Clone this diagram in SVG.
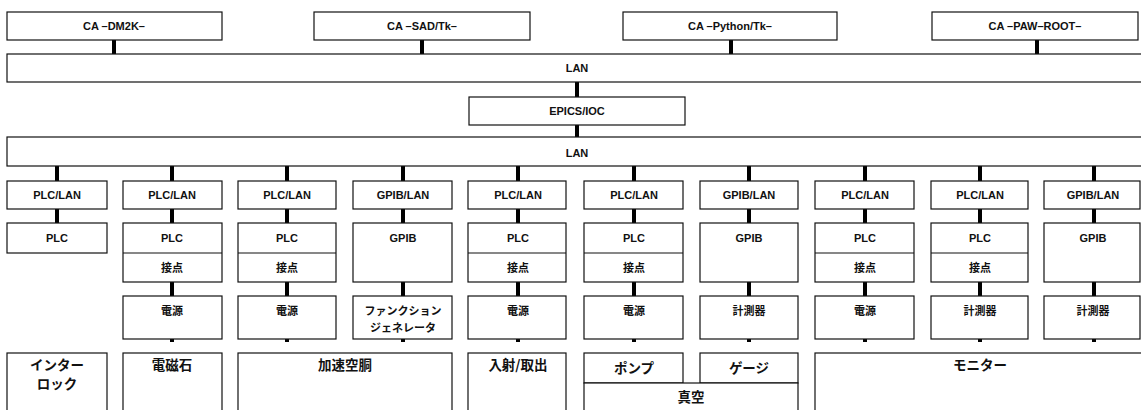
<svg xmlns="http://www.w3.org/2000/svg" width="1141" height="410" viewBox="0 0 1141 410">
<style>
.b{fill:#fff;stroke:#111;stroke-width:1.2}
.d{stroke:#111;stroke-width:1.2}
.bar{stroke:#000;stroke-width:4}
.t{font-family:"Liberation Sans",Arial,sans-serif;font-weight:bold;font-size:11px;fill:#111;text-anchor:middle}
.j{font-family:"Noto Sans CJK JP",sans-serif;font-weight:bold;font-size:11px;fill:#111;text-anchor:middle}
.jb{font-family:"Noto Sans CJK JP",sans-serif;font-weight:bold;font-size:13.5px;fill:#111;text-anchor:middle}
</style>
<rect width="1141" height="410" fill="#fff"/>
<g id="connectors">
<line class="bar" x1="114" y1="40" x2="114" y2="54"/>
<line class="bar" x1="422" y1="40" x2="422" y2="54"/>
<line class="bar" x1="731" y1="40" x2="731" y2="54"/>
<line class="bar" x1="1037" y1="40" x2="1037" y2="54"/>
<line class="bar" x1="577" y1="82" x2="577" y2="97"/>
<line class="bar" x1="577" y1="125" x2="577" y2="137"/>
<g id="lan2-bars">
<line class="bar" x1="57" y1="166" x2="57" y2="181"/>
<line class="bar" x1="172" y1="166" x2="172" y2="181"/>
<line class="bar" x1="287" y1="166" x2="287" y2="181"/>
<line class="bar" x1="403" y1="166" x2="403" y2="181"/>
<line class="bar" x1="518" y1="166" x2="518" y2="181"/>
<line class="bar" x1="634" y1="166" x2="634" y2="181"/>
<line class="bar" x1="749" y1="166" x2="749" y2="181"/>
<line class="bar" x1="865" y1="166" x2="865" y2="181"/>
<line class="bar" x1="980" y1="166" x2="980" y2="181"/>
<line class="bar" x1="1094" y1="166" x2="1094" y2="181"/>
</g>
<g id="l1-bars">
<line class="bar" x1="57" y1="209" x2="57" y2="223"/>
<line class="bar" x1="172" y1="209" x2="172" y2="223"/>
<line class="bar" x1="287" y1="209" x2="287" y2="223"/>
<line class="bar" x1="403" y1="209" x2="403" y2="223"/>
<line class="bar" x1="518" y1="209" x2="518" y2="223"/>
<line class="bar" x1="634" y1="209" x2="634" y2="223"/>
<line class="bar" x1="749" y1="209" x2="749" y2="223"/>
<line class="bar" x1="865" y1="209" x2="865" y2="223"/>
<line class="bar" x1="980" y1="209" x2="980" y2="223"/>
<line class="bar" x1="1094" y1="209" x2="1094" y2="223"/>
</g>
<g id="l2-bars">
<line class="bar" x1="172" y1="282" x2="172" y2="296"/>
<line class="bar" x1="287" y1="282" x2="287" y2="296"/>
<line class="bar" x1="403" y1="282" x2="403" y2="296"/>
<line class="bar" x1="518" y1="282" x2="518" y2="296"/>
<line class="bar" x1="634" y1="282" x2="634" y2="296"/>
<line class="bar" x1="749" y1="282" x2="749" y2="296"/>
<line class="bar" x1="865" y1="282" x2="865" y2="296"/>
<line class="bar" x1="980" y1="282" x2="980" y2="296"/>
<line class="bar" x1="1094" y1="282" x2="1094" y2="296"/>
</g>
<g id="stubs">
<line class="bar" x1="172" y1="339" x2="172" y2="342"/>
<line class="bar" x1="287" y1="339" x2="287" y2="342"/>
<line class="bar" x1="403" y1="339" x2="403" y2="342"/>
<line class="bar" x1="518" y1="339" x2="518" y2="342"/>
<line class="bar" x1="634" y1="339" x2="634" y2="342"/>
<line class="bar" x1="749" y1="339" x2="749" y2="342"/>
<line class="bar" x1="865" y1="339" x2="865" y2="342"/>
<line class="bar" x1="980" y1="339" x2="980" y2="342"/>
<line class="bar" x1="1094" y1="339" x2="1094" y2="342"/>
</g>
</g>
<g id="ca-dm2k"><rect class="b" x="7" y="12" width="215" height="28"/><text class="t" x="114" y="30">CA  –DM2K–</text></g>
<g id="ca-sad"><rect class="b" x="314" y="12" width="216" height="28"/><text class="t" x="422" y="30">CA  –SAD/Tk–</text></g>
<g id="ca-python"><rect class="b" x="623" y="12" width="214" height="28"/><text class="t" x="730" y="30">CA  –Python/Tk–</text></g>
<g id="ca-paw"><rect class="b" x="932" y="12" width="206" height="28"/><text class="t" x="1035" y="30">CA  –PAW–ROOT–</text></g>
<g id="lan1"><rect class="b" x="7" y="54" width="1140" height="28"/><text class="t" x="577" y="72">LAN</text></g>
<g id="epics"><rect class="b" x="469" y="97" width="216" height="28"/><text class="t" x="577" y="115">EPICS/IOC</text></g>
<g id="lan2"><rect class="b" x="7" y="137" width="1140" height="29"/><text class="t" x="577" y="157">LAN</text></g>

<g id="col1"><rect class="b" x="7" y="181" width="100" height="28"/><text class="t" x="57" y="199">PLC/LAN</text>
<rect class="b" x="7" y="223" width="100" height="30"/><text class="t" x="57" y="242">PLC</text></g>

<g id="col2"><rect class="b" x="123" y="181" width="99" height="28"/><text class="t" x="172" y="199">PLC/LAN</text>
<rect class="b" x="123" y="223" width="99" height="59"/><line class="d" x1="123" y1="253" x2="222" y2="253"/><text class="t" x="172" y="242">PLC</text><text class="j" x="172" y="272">接点</text>
<rect class="b" x="123" y="296" width="99" height="43"/><text class="j" x="172" y="315">電源</text></g>

<g id="col3"><rect class="b" x="238" y="181" width="98" height="28"/><text class="t" x="287" y="199">PLC/LAN</text>
<rect class="b" x="238" y="223" width="98" height="59"/><line class="d" x1="238" y1="253" x2="336" y2="253"/><text class="t" x="287" y="242">PLC</text><text class="j" x="287" y="272">接点</text>
<rect class="b" x="238" y="296" width="98" height="43"/><text class="j" x="287" y="315">電源</text></g>

<g id="col4"><rect class="b" x="353" y="181" width="99" height="28"/><text class="t" x="403" y="199">GPIB/LAN</text>
<rect class="b" x="353" y="223" width="99" height="59"/><text class="t" x="403" y="242">GPIB</text>
<rect class="b" x="353" y="296" width="99" height="43"/><text class="j" x="403" y="315">ファンクション</text><text class="j" x="403" y="332">ジェネレータ</text></g>

<g id="col5"><rect class="b" x="468" y="181" width="98" height="28"/><text class="t" x="518" y="199">PLC/LAN</text>
<rect class="b" x="468" y="223" width="98" height="59"/><line class="d" x1="468" y1="253" x2="566" y2="253"/><text class="t" x="518" y="242">PLC</text><text class="j" x="518" y="272">接点</text>
<rect class="b" x="468" y="296" width="98" height="43"/><text class="j" x="518" y="315">電源</text></g>

<g id="col6"><rect class="b" x="584" y="181" width="99" height="28"/><text class="t" x="634" y="199">PLC/LAN</text>
<rect class="b" x="584" y="223" width="99" height="59"/><line class="d" x1="584" y1="253" x2="683" y2="253"/><text class="t" x="634" y="242">PLC</text><text class="j" x="634" y="272">接点</text>
<rect class="b" x="584" y="296" width="99" height="43"/><text class="j" x="634" y="315">電源</text></g>

<g id="col7"><rect class="b" x="700" y="181" width="98" height="28"/><text class="t" x="749" y="199">GPIB/LAN</text>
<rect class="b" x="700" y="223" width="98" height="59"/><text class="t" x="749" y="242">GPIB</text>
<rect class="b" x="700" y="296" width="98" height="43"/><text class="j" x="749" y="315">計測器</text></g>

<g id="col8"><rect class="b" x="815" y="181" width="99" height="28"/><text class="t" x="865" y="199">PLC/LAN</text>
<rect class="b" x="815" y="223" width="99" height="59"/><line class="d" x1="815" y1="253" x2="914" y2="253"/><text class="t" x="865" y="242">PLC</text><text class="j" x="865" y="272">接点</text>
<rect class="b" x="815" y="296" width="99" height="43"/><text class="j" x="865" y="315">電源</text></g>

<g id="col9"><rect class="b" x="931" y="181" width="97" height="28"/><text class="t" x="980" y="199">PLC/LAN</text>
<rect class="b" x="931" y="223" width="97" height="59"/><line class="d" x1="931" y1="253" x2="1028" y2="253"/><text class="t" x="980" y="242">PLC</text><text class="j" x="980" y="272">接点</text>
<rect class="b" x="931" y="296" width="97" height="43"/><text class="j" x="980" y="315">計測器</text></g>

<g id="col10"><rect class="b" x="1044" y="181" width="96" height="28"/><text class="t" x="1093" y="199">GPIB/LAN</text>
<rect class="b" x="1044" y="223" width="96" height="59"/><text class="t" x="1093" y="242">GPIB</text>
<rect class="b" x="1044" y="296" width="96" height="43"/><text class="j" x="1093" y="315">計測器</text></g>

<g id="interlock"><rect class="b" x="7" y="353" width="100" height="62"/><text class="jb" x="57" y="370">インター</text><text class="jb" x="57" y="389">ロック</text></g>
<g id="magnet"><rect class="b" x="123" y="353" width="99" height="62"/><text class="jb" x="172" y="370">電磁石</text></g>
<g id="cavity"><rect class="b" x="238" y="353" width="214" height="62"/><text class="jb" x="345" y="370">加速空胴</text></g>
<g id="injection"><rect class="b" x="468" y="353" width="98" height="62"/><text class="jb" x="518" y="370">入射/取出</text></g>
<g id="pump"><rect class="b" x="584" y="353" width="99" height="30"/><text class="jb" x="634" y="373">ポンプ</text></g>
<g id="gauge"><rect class="b" x="700" y="353" width="98" height="30"/><text class="jb" x="749" y="373">ゲージ</text></g>
<g id="vacuum"><rect class="b" x="584" y="383" width="214" height="32"/><text class="jb" x="691" y="402">真空</text></g>
<g id="monitor"><rect class="b" x="815" y="353" width="330" height="62"/><text class="jb" x="980" y="370">モニター</text></g>
</svg>
